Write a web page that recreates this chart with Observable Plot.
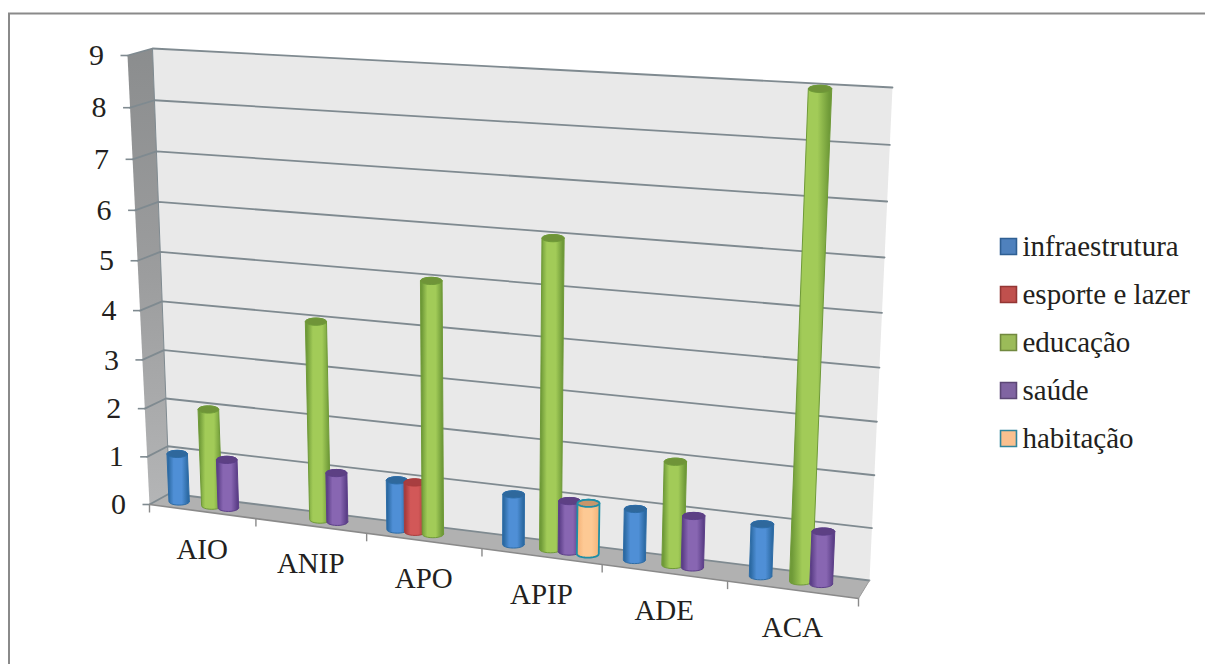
<!DOCTYPE html>
<html lang="pt">
<head>
<meta charset="utf-8">
<title>Projetos por área</title>
<style>
  html, body { margin: 0; padding: 0; background: #fff; }
  svg { display: block; }
</style>
<script src="https://cdn.jsdelivr.net/npm/d3@7"></script>
<script src="https://cdn.jsdelivr.net/npm/@observablehq/plot@0.6"></script>
</head>
<body>
<script>
// Chart values
const categories = ["AIO", "ANIP", "APO", "APIP", "ADE", "ACA"];
const seriesNames = ["infraestrutura", "esporte e lazer", "educação", "saúde", "habitação"];
const infraestrutura = [1, 0, 1, 1, 1, 1];
const esporteLazer = [0, 0, 1, 0, 0, 0];
const educacao = [2, 4, 5, 6, 2, 9];
const saude = [1, 1, 0, 1, 1, 1];
const habitacao = [0, 0, 0, 1, 0, 0];
const seriesValues = [infraestrutura, esporteLazer, educacao, saude, habitacao];
const valueTicks = [0, 1, 2, 3, 4, 5, 6, 7, 8, 9];

// Cylinder palette: [edge shade, centre shade, cap, outline]
const palette = [
  ["#2c6aa3", "#4f8fd6", "#2f689c", "#2d6ca6"],
  ["#a93c3c", "#d25858", "#a83e40", "#a93c3c"],
  ["#6f9a38", "#a2cb58", "#6f9438", "#6f9a38"],
  ["#5c3f88", "#8866b2", "#5d4084", "#5c3f88"],
  ["#f6b67c", "#fdc994", "#c9966a", "#1f8ea6"]
];
const swatchFill = ["#4f81bd", "#c0504d", "#9bbb59", "#8064a2", "#fac08f"];
const swatchStroke = ["#2f5f93", "#943634", "#71893f", "#5c4776", "#31859c"];

const width = 1205, height = 664;
const serif = "'Liberation Serif', 'Times New Roman', serif";
const ink = "#231f20";

// The box of the 3D view: its eight corners on screen.
const corners = {
  backBottomLeft: [169, 493], backBottomRight: [869, 580],
  backTopLeft: [152, 48], backTopRight: [892, 87],
  frontBottomLeft: [149, 504], frontBottomRight: [858, 598],
  frontTopLeft: [127, 55], frontTopRight: [881, 97]
};
const foreshorten = (f, k) => f * k / (1 + (k - 1) * f);
const mix = (a, b, t) => [a[0] + (b[0] - a[0]) * t, a[1] + (b[1] - a[1]) * t];
const maxValue = valueTicks[valueTicks.length - 1];
const nCat = categories.length;

// Screen position of a point in the box: s along categories, d from back (0) to front (1), v value.
function project(s, d, v) {
  const u = foreshorten(s / nCat, 0.883);
  const w = foreshorten(v / maxValue, 0.95);
  const k = corners;
  const back = mix(mix(k.backBottomLeft, k.backBottomRight, u), mix(k.backTopLeft, k.backTopRight, u), w);
  const front = mix(mix(k.frontBottomLeft, k.frontBottomRight, u), mix(k.frontTopLeft, k.frontTopRight, u), w);
  const p = mix(back, front, d);
  return {x: p[0], y: p[1]};
}

const polygon = (pts, id = 0) => [...pts, pts[0]].map((p) => ({...p, id}));

// Walls and floor
const backWall = polygon([project(0, 0, 0), project(nCat, 0, 0), project(nCat, 0, maxValue), project(0, 0, maxValue)]);
const sideWall = polygon([project(0, 0, 0), project(0, 1, 0), project(0, 1, maxValue), project(0, 0, maxValue)]);
const floorPlane = polygon([project(0, 0, 0), project(nCat, 0, 0), project(nCat, 1, 0), project(0, 1, 0)]);

// Gridlines run across the side wall and along the back wall
const grid = valueTicks.flatMap((v) => [project(0, 1, v), project(0, 0, v), project(nCat, 0, v)].map((p) => ({...p, id: v})));
const valueTickMarks = valueTicks.map((v) => ({v, ...project(0, 1, v)}));
const categoryTickMarks = d3.range(nCat + 1).map((i) => project(i, 1, 0));
const categoryLabels = categories.map((name, i) => ({name, ...project(i + 0.5, 1, 0)}));

// Cylinders: the end circles stay level on screen, so they are flattened around their projected centre
const barSpacing = 0.155, barPlane = 0.5, capFlatten = 3.6;
const angles = d3.range(0, 361, 15).map((a) => a * Math.PI / 180);
function ring(s, v) {
  const centre = project(s, barPlane, v);
  const halfWidth = (project(s + 0.09, barPlane, v).x - project(s - 0.09, barPlane, v).x) * 0.25 + 5.5;
  return angles.map((a) => ({x: centre.x + halfWidth * Math.cos(a), y: centre.y + capFlatten * Math.sin(a)}));
}

function cylinders(seriesIndex) {
  const bodies = [], caps = [];
  seriesValues[seriesIndex].forEach((value, i) => {
    if (!value) return;
    const s = 0.5 + (i + (seriesIndex - 2) * barSpacing) * 1.004;
    const base = ring(s, 0).filter((_, n) => n <= 12);        // near half of the base circle
    const topEdge = ring(s, value).filter((_, n) => n >= 12); // far half of the top circle
    bodies.push(...polygon([...base, ...topEdge], i));
    caps.push(...polygon(ring(s, value), i));
  });
  return {bodies, caps};
}

const legendTop = 246, legendStep = 48;
const legend = seriesNames.map((name, i) => ({name, i, y: legendTop + i * legendStep}));

// Gradient definitions used by the side wall and the cylinders
function defs() {
  const d = d3.create("svg:defs");
  palette.forEach((p, i) => {
    const g = d.append("linearGradient").attr("id", `cyl${i}`);
    [[0, p[0]], [0.06, p[0]], [0.3, p[1]], [0.66, p[1]], [0.94, p[0]], [1, p[0]]].forEach(([o, col]) =>
      g.append("stop").attr("offset", o).attr("stop-color", col));
  });
  const side = d.append("linearGradient").attr("id", "side").attr("x1", 0).attr("x2", 0).attr("y1", 0).attr("y2", 1);
  [[0, "#8b8d8e"], [0.5, "#9c9d9e"], [1, "#b4b5b6"]].forEach(([o, col]) =>
    side.append("stop").attr("offset", o).attr("stop-color", col));
  return d.node();
}

const outline = {x: "x", y: "y", z: "id", curve: "linear"};

const plot = Plot.plot({
  width, height,
  margin: 0,
  x: {type: "linear", domain: [0, width], range: [0, width], axis: null},
  y: {type: "linear", domain: [0, height], range: [0, height], axis: null},
  marks: [
    defs,
    // Panel border: top and left only
    Plot.ruleY([13], {x1: () => 8, x2: () => width, stroke: "#8a8a8a", strokeWidth: 2}),
    Plot.ruleX([8.5], {y1: () => 13, y2: () => height, stroke: "#8a8a8a", strokeWidth: 2}),
    // Box
    Plot.line(backWall, {...outline, fill: "#e9e9e9", stroke: "none"}),
    Plot.line(sideWall, {...outline, fill: "url(#side)", stroke: "none"}),
    Plot.line(floorPlane, {...outline, fill: "#b1b1b1", stroke: "none"}),
    Plot.line(grid, {...outline, stroke: "#7f8a90", strokeWidth: 1.8}),
    Plot.line([project(0, 0, 0), project(0, 0, maxValue)], {x: "x", y: "y", stroke: "#7f8a90", strokeWidth: 1}),
    Plot.line([project(0, 1, 0), project(nCat, 1, 0)], {x: "x", y: "y", stroke: "#8a8a8a", strokeWidth: 1.6}),
    Plot.line([project(nCat, 1, 0), project(nCat, 0, 0)], {x: "x", y: "y", stroke: "#9a9a9a", strokeWidth: 1}),
    // Axis ticks
    Plot.link(valueTickMarks, {x1: (d) => d.x - 7, y1: "y", x2: "x", y2: "y", stroke: "#7f8a90", strokeWidth: 1.6}),
    Plot.link(categoryTickMarks, {x1: "x", y1: "y", x2: "x", y2: (d) => d.y + 8, stroke: "#8a8a8a", strokeWidth: 1.4}),
    // Value and category labels
    Plot.text(valueTickMarks, {x: "x", y: "y", text: (d) => String(d.v), dx: -31, fontFamily: serif, fontSize: 30, fill: ink, textAnchor: "middle"}),
    Plot.text(categoryLabels, {x: "x", y: "y", text: "name", dy: 38, fontFamily: serif, fontSize: 29, fill: ink, textAnchor: "middle"}),
    // Cylinders, one series over the next
    seriesNames.map((_, i) => {
      const {bodies, caps} = cylinders(i);
      const sw = i === 4 ? 1.8 : 1;
      return [
        Plot.line(bodies, {...outline, fill: `url(#cyl${i})`, stroke: palette[i][3], strokeWidth: sw}),
        Plot.line(caps, {...outline, fill: palette[i][2], stroke: palette[i][3], strokeWidth: sw})
      ];
    }),
    // Legend
    legend.map((d) => Plot.dot([d], {x: () => 1008, y: "y", symbol: "square", r: 9, fill: swatchFill[d.i], stroke: swatchStroke[d.i], strokeWidth: 1.6})),
    Plot.text(legend, {x: () => 1022, y: "y", text: "name", fontFamily: serif, fontSize: 29, fill: ink, textAnchor: "start"})
  ]
});
document.body.appendChild(plot);
</script>
</body>
</html>
